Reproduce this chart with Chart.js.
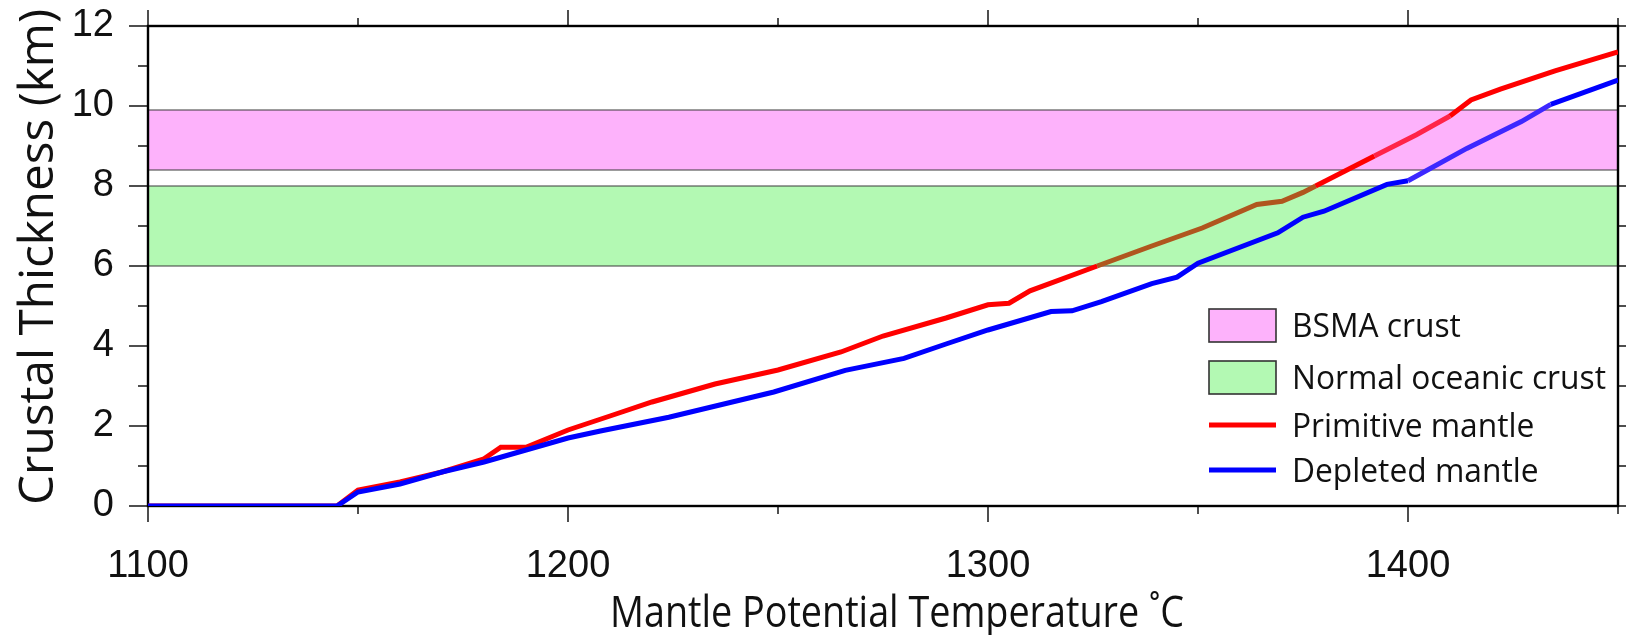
<!DOCTYPE html>
<html><head><meta charset="utf-8">
<script src="https://cdn.jsdelivr.net/npm/chart.js@4.4.1/dist/chart.umd.min.js"></script>
<style>html,body{margin:0;padding:0;background:#fff;overflow:hidden}#c{display:block}</style>
</head><body>
<canvas id="c" width="1626" height="635"></canvas>
<script>
// ---- data ----
const primitiveT = [1100, 1145, 1150, 1160, 1170, 1180, 1184, 1190, 1200, 1210, 1220, 1235, 1250, 1265, 1275, 1290, 1300, 1305, 1310, 1326, 1339, 1351, 1364, 1370, 1375, 1378, 1392, 1402, 1410, 1415, 1422, 1435, 1450];
const primitiveV = [0, 0, 0.4, 0.6, 0.85, 1.18, 1.47, 1.47, 1.9, 2.25, 2.6, 3.05, 3.4, 3.85, 4.25, 4.7, 5.03, 5.07, 5.38, 6.0, 6.5, 6.95, 7.54, 7.62, 7.84, 8.0, 8.75, 9.28, 9.75, 10.15, 10.42, 10.88, 11.35];
const depletedT = [1100, 1145, 1150, 1160, 1170, 1180, 1190, 1200, 1208, 1224, 1249, 1266, 1280, 1290, 1300, 1315, 1320, 1327, 1339, 1345, 1350, 1369, 1375, 1380, 1395, 1400, 1414, 1427, 1434, 1450];
const depletedV = [0, 0, 0.35, 0.55, 0.85, 1.1, 1.4, 1.7, 1.88, 2.22, 2.85, 3.39, 3.69, 4.05, 4.4, 4.86, 4.88, 5.11, 5.56, 5.72, 6.07, 6.83, 7.22, 7.37, 8.04, 8.13, 8.94, 9.61, 10.04, 10.65];
const bsmaBand = [8.4, 9.9];
const normalBand = [6.0, 8.0];
const xMajorTicks = [1100, 1200, 1300, 1400];
const xMinorTicks = [1150, 1250, 1350, 1450];
const yMajorTicks = [0, 2, 4, 6, 8, 10, 12];
const yMinorTicks = [1, 3, 5, 7, 9, 11];
const seriesNames = ['Primitive mantle', 'Depleted mantle'];
const bandNames = ['BSMA crust', 'Normal oceanic crust'];
const xTitle = 'Mantle Potential Temperature \u02DAC';
const yTitle = 'Crustal Thickness (km)';

// ---- styles ----
const RED = '#ff0000', BLUE = '#0000ff';
const PINK = '#fdb2fb', GREEN = '#b3f9b3';
const TITLE_FONT = "'Open Sans', 'DejaVu Sans', sans-serif";
const TICK_FONT = "'Liberation Sans', Arial, sans-serif";

function inBand(v, b) { return v >= b[0] && v <= b[1]; }
function segColor(base, kind) {
  return ctx => {
    const m = (ctx.p0.parsed.y + ctx.p1.parsed.y) / 2;
    if (kind === 'red') {
      if (inBand(m, normalBand)) return '#b0561e';
      if (inBand(m, bsmaBand)) return '#ff2448';
    } else {
      if (inBand(m, bsmaBand)) return '#3d28ff';
    }
    return base;
  };
}

const backgroundPlugin = {
  id: 'bandsFrame',
  beforeDatasetsDraw(chart) {
    const { ctx, chartArea: a, scales: { x, y } } = chart;
    ctx.save();
    [[bsmaBand, PINK], [normalBand, GREEN]].forEach(([b, col]) => {
      const yTop = y.getPixelForValue(b[1]), yBot = y.getPixelForValue(b[0]);
      ctx.fillStyle = col;
      ctx.fillRect(a.left, yTop, a.right - a.left, yBot - yTop);
      ctx.strokeStyle = '#3a3a3a'; ctx.lineWidth = 1.2;
      [yTop, yBot].forEach(p => { ctx.beginPath(); ctx.moveTo(a.left, p); ctx.lineTo(a.right, p); ctx.stroke(); });
    });
    ctx.strokeStyle = '#222'; ctx.lineWidth = 1.6;
    const xt = (vals, len) => vals.forEach(v => {
      const p = x.getPixelForValue(v);
      ctx.beginPath(); ctx.moveTo(p, a.bottom); ctx.lineTo(p, a.bottom + len); ctx.stroke();
      ctx.beginPath(); ctx.moveTo(p, a.top); ctx.lineTo(p, a.top - len); ctx.stroke();
    });
    xt(xMajorTicks, 16); xt(xMinorTicks, 8);
    const yt = (vals, len) => vals.forEach(v => {
      const p = y.getPixelForValue(v);
      ctx.beginPath(); ctx.moveTo(a.left, p); ctx.lineTo(a.left - len, p); ctx.stroke();
      ctx.beginPath(); ctx.moveTo(a.right, p); ctx.lineTo(a.right + len, p); ctx.stroke();
    });
    yt(yMajorTicks, 19); yt(yMinorTicks, 10);
    ctx.strokeStyle = '#000'; ctx.lineWidth = 2.4;
    ctx.strokeRect(a.left, a.top, a.right - a.left, a.bottom - a.top);
    ctx.restore();
  },
  afterDraw(chart) {
    const { ctx } = chart;
    ctx.save();
    ctx.fillStyle = '#111';
    // x title
    ctx.font = '43px ' + TITLE_FONT;
    let w = ctx.measureText(xTitle).width;
    ctx.save(); ctx.translate(897, 627); ctx.scale(574 / w, 1);
    ctx.textAlign = 'center'; ctx.textBaseline = 'alphabetic'; ctx.fillText(xTitle, 0, 0); ctx.restore();
    // y title
    ctx.font = '47px ' + TITLE_FONT;
    w = ctx.measureText(yTitle).width;
    ctx.save(); ctx.translate(53, 257); ctx.rotate(-Math.PI / 2); ctx.scale(496 / w, 1);
    ctx.textAlign = 'center'; ctx.textBaseline = 'alphabetic'; ctx.fillText(yTitle, 0, 0); ctx.restore();
    // legend
    const lx = 1209, lw = 67, tx = 1292;
    const rows = [325.5, 377.5, 425, 470];
    ctx.font = '33px ' + TITLE_FONT;
    const ls = 314 / ctx.measureText(bandNames[1]).width;
    [[PINK, rows[0]], [GREEN, rows[1]]].forEach(([c, cy]) => {
      ctx.fillStyle = c; ctx.fillRect(lx, cy - 16.5, lw, 33);
      ctx.strokeStyle = '#333'; ctx.lineWidth = 1.6; ctx.strokeRect(lx, cy - 16.5, lw, 33);
    });
    [[RED, rows[2]], [BLUE, rows[3]]].forEach(([c, cy]) => {
      ctx.strokeStyle = c; ctx.lineWidth = 5; ctx.beginPath(); ctx.moveTo(lx, cy); ctx.lineTo(lx + lw, cy); ctx.stroke();
    });
    const labels = [bandNames[0], bandNames[1], seriesNames[0], seriesNames[1]];
    ctx.fillStyle = '#111';
    labels.forEach((t, i) => {
      ctx.save(); ctx.translate(tx, rows[i] + 11.8); ctx.scale(ls, 1);
      ctx.textAlign = 'left'; ctx.textBaseline = 'alphabetic'; ctx.fillText(t, 0, 0); ctx.restore();
    });
    ctx.restore();
  }
};

const toPts = (T, V) => T.map((t, i) => ({ x: t, y: V[i] }));

new Chart(document.getElementById('c'), {
  type: 'scatter',
  data: {
    datasets: [
      { label: seriesNames[1], data: toPts(depletedT, depletedV), showLine: true, borderColor: BLUE,
        borderWidth: 5, pointRadius: 0, order: 0, segment: { borderColor: segColor(BLUE, 'blue') } },
      { label: seriesNames[0], data: toPts(primitiveT, primitiveV), showLine: true, borderColor: RED,
        borderWidth: 5, pointRadius: 0, order: 1, segment: { borderColor: segColor(RED, 'red') } }
    ]
  },
  options: {
    responsive: false, animation: false, devicePixelRatio: 1,
    layout: { padding: { top: 26, right: 8, left: 0, bottom: 0 } },
    plugins: { legend: { display: false }, tooltip: { enabled: false } },
    scales: {
      x: {
        type: 'linear', min: 1100, max: 1450, position: 'bottom',
        grid: { display: false }, border: { display: false },
        afterBuildTicks: s => { s.ticks = xMajorTicks.map(v => ({ value: v })); },
        afterFit: s => { s.height = 129; s.paddingLeft = 0; s.paddingRight = 0; },
        ticks: { padding: 30, color: '#111', maxRotation: 0, autoSkip: false,
          callback: v => String(v),
          font: { family: TICK_FONT, size: 38 } }
      },
      y: {
        type: 'linear', min: 0, max: 12,
        grid: { display: false }, border: { display: false },
        afterBuildTicks: s => { s.ticks = yMajorTicks.map(v => ({ value: v })); },
        afterFit: s => { s.width = 148; s.paddingTop = 0; s.paddingBottom = 0; },
        ticks: { padding: 26, color: '#111',
          callback: v => String(v),
          font: { family: TICK_FONT, size: 38 } }
      }
    }
  },
  plugins: [backgroundPlugin]
});
</script>
</body></html>
